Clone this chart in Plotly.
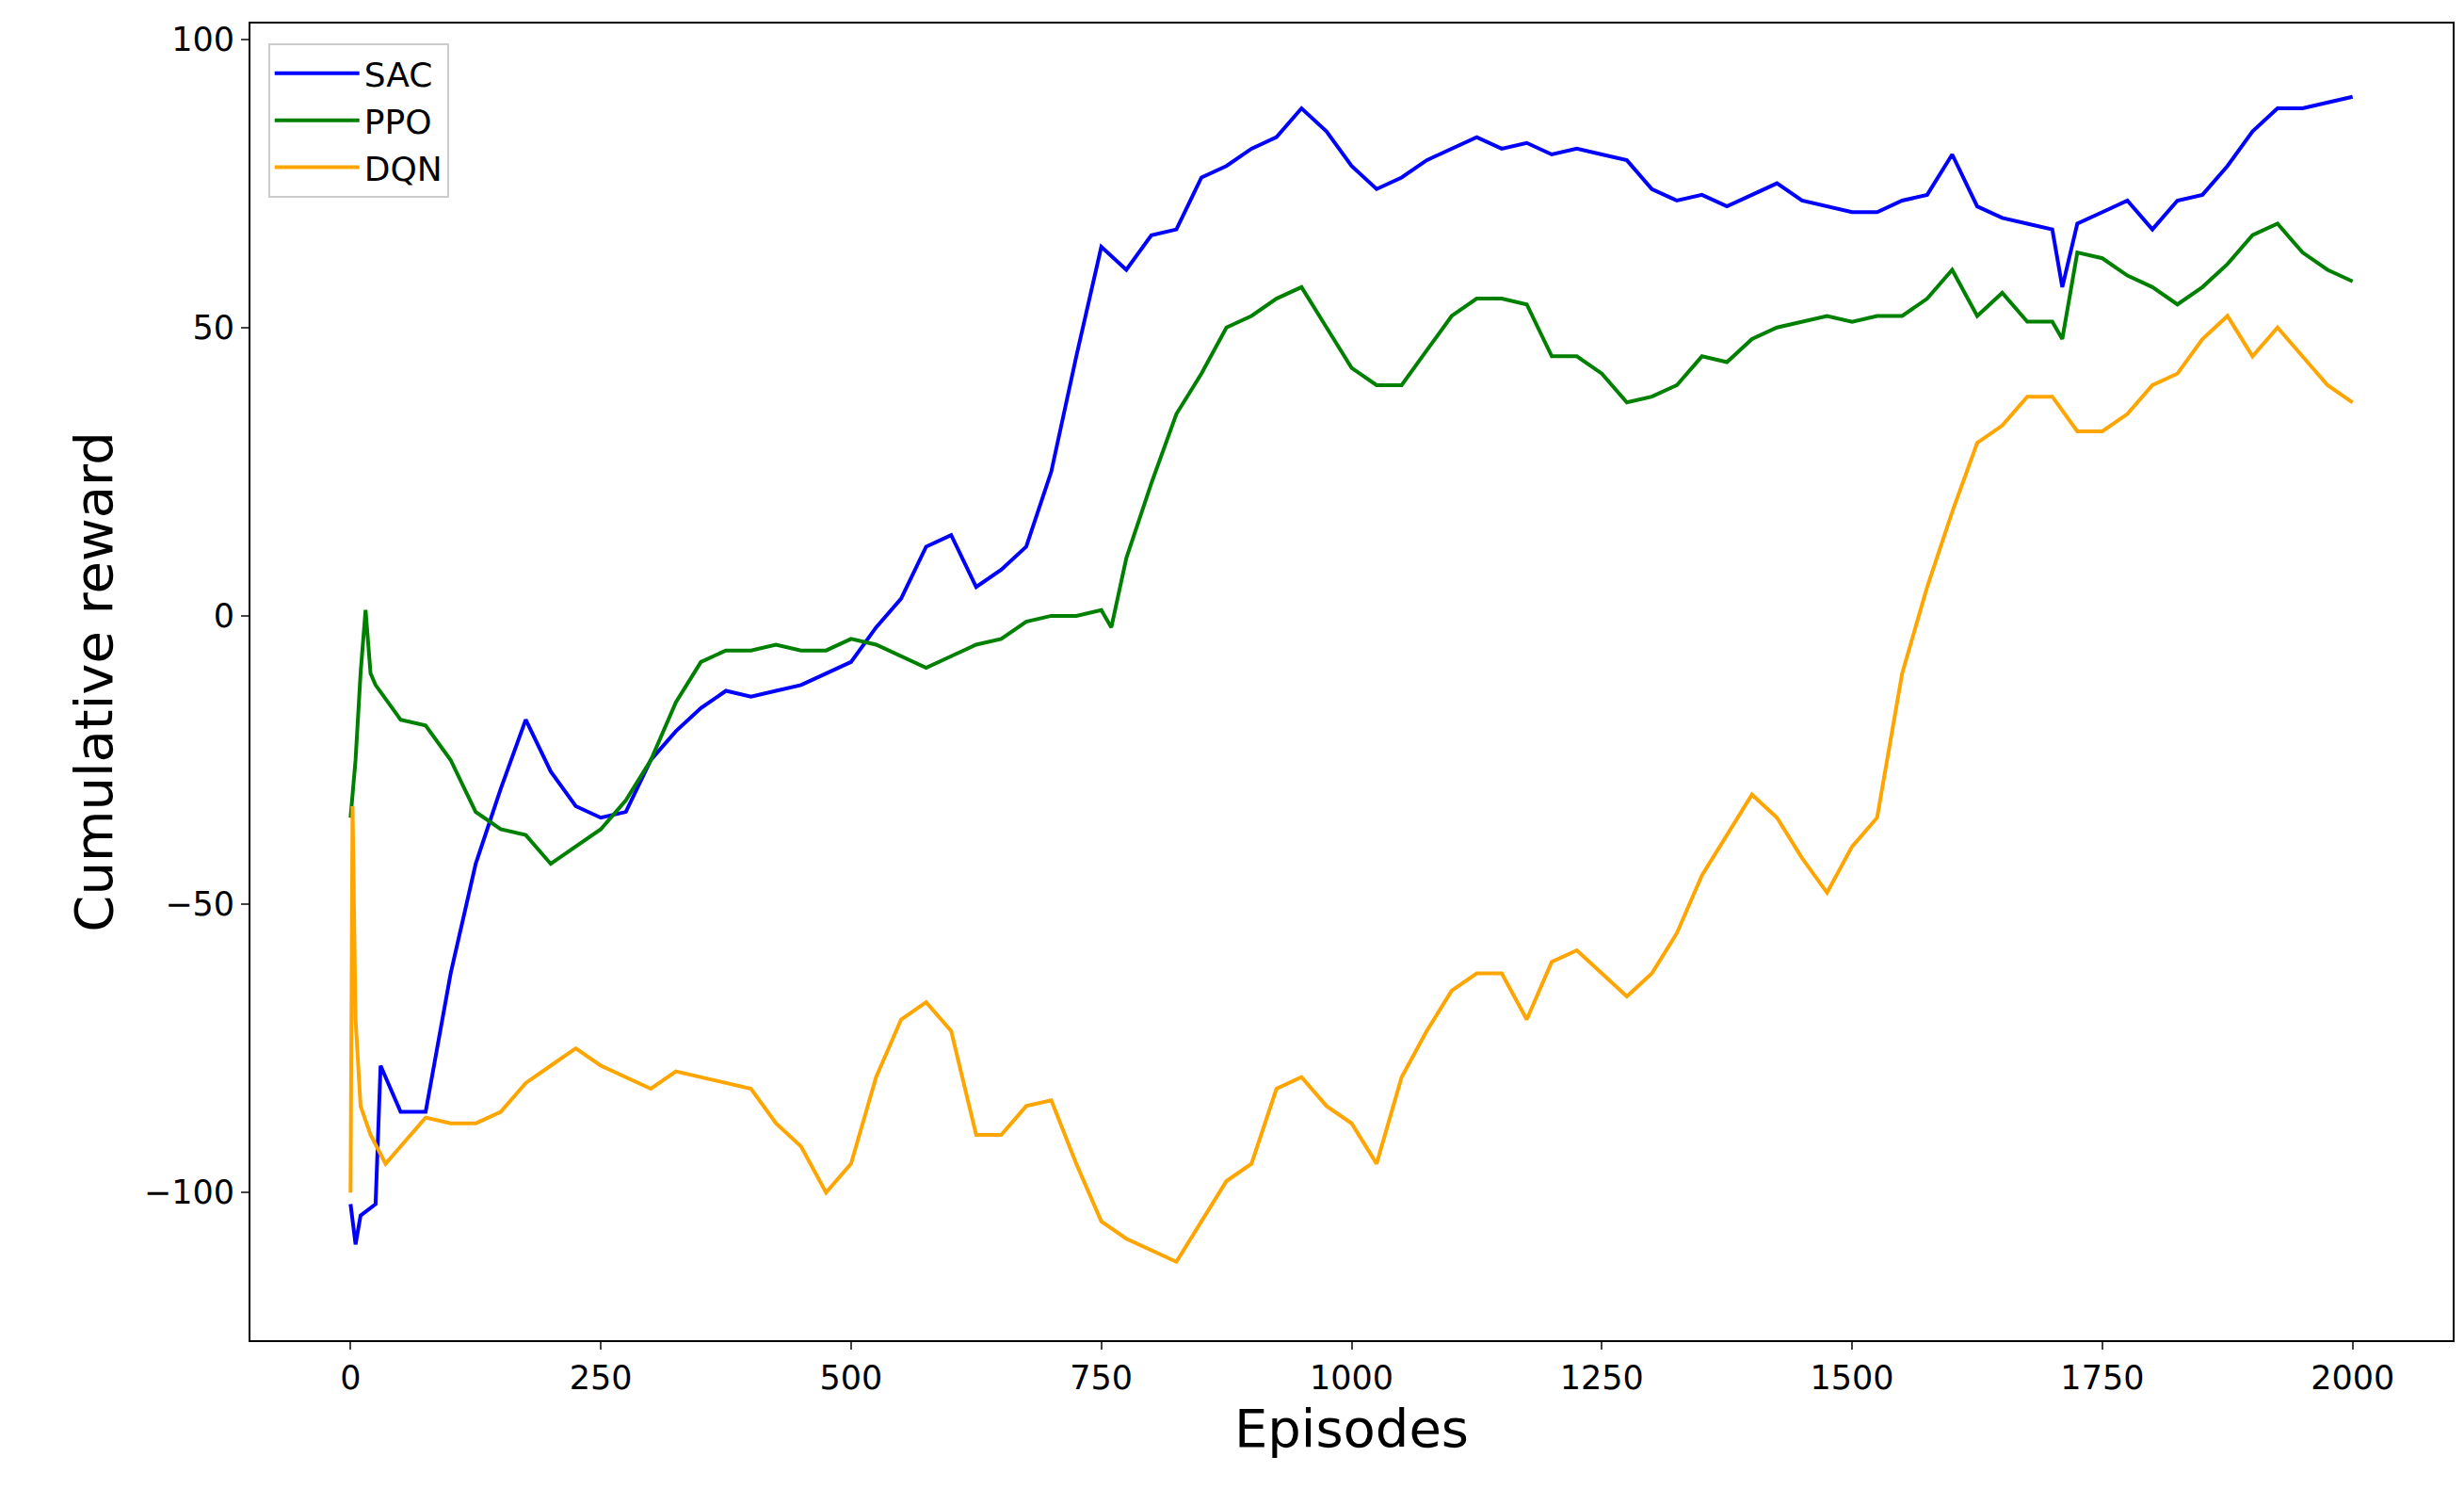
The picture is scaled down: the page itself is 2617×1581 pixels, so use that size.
import plotly.graph_objects as go

sac_x = [0,5,10,25,30,50,75,100,125,150,175,200,225,250,275,300,325,350,375,400,425,450,475,500,525,550,575,600,625,650,675,700,725,750,775,800,825,850,875,900,925,950,975,1000,1025,1050,1075,1100,1125,1150,1175,1200,1225,1250,1275,1300,1325,1350,1375,1400,1425,1450,1475,1500,1525,1550,1575,1600,1625,1650,1675,1700,1710,1725,1750,1775,1800,1825,1850,1875,1900,1925,1950,1975,2000]
sac_y = [-102,-109,-104,-102,-78,-86,-86,-62,-43,-30,-18,-27,-33,-35,-34,-25,-20,-16,-13,-14,-13,-12,-10,-8,-2,3,12,14,5,8,12,25,45,64,60,66,67,76,78,81,83,88,84,78,74,76,79,81,83,81,82,80,81,80,79,74,72,73,71,73,75,72,71,70,70,72,73,80,71,69,68,67,57,68,70,72,67,72,73,78,84,88,88,89,90]

ppo_x = [0,5,10,15,20,25,50,75,100,125,150,175,200,225,250,275,300,325,350,375,400,425,450,475,500,525,550,575,600,625,650,675,700,725,750,760,775,800,825,850,875,900,925,950,975,1000,1025,1050,1075,1100,1125,1150,1175,1200,1225,1250,1275,1300,1325,1350,1375,1400,1425,1450,1475,1500,1525,1550,1575,1600,1625,1650,1675,1700,1710,1725,1750,1775,1800,1825,1850,1875,1900,1925,1950,1975,2000]
ppo_y = [-35,-25,-10,1,-10,-12,-18,-19,-25,-34,-37,-38,-43,-40,-37,-32,-25,-15,-8,-6,-6,-5,-6,-6,-4,-5,-7,-9,-7,-5,-4,-1,0,0,1,-2,10,23,35,42,50,52,55,57,50,43,40,40,46,52,55,55,54,45,45,42,37,38,40,45,44,48,50,51,52,51,52,52,55,60,52,56,51,51,48,63,62,59,57,54,57,61,66,68,63,60,58]

dqn_x = [0,2,5,10,20,35,50,75,100,125,150,175,200,225,250,275,300,325,350,375,400,425,450,475,500,525,550,575,600,625,650,675,700,725,750,775,800,825,850,875,900,925,950,975,1000,1025,1050,1075,1100,1125,1150,1175,1200,1225,1250,1275,1300,1325,1350,1375,1400,1425,1450,1475,1500,1525,1550,1575,1600,1625,1650,1675,1700,1725,1750,1775,1800,1825,1850,1875,1900,1925,1950,1975,2000]
dqn_y = [-100,-33,-70,-85,-90,-95,-92,-87,-88,-88,-86,-81,-78,-75,-78,-80,-82,-79,-80,-81,-82,-88,-92,-100,-95,-80,-70,-67,-72,-90,-90,-85,-84,-95,-105,-108,-110,-112,-105,-98,-95,-82,-80,-85,-88,-95,-80,-72,-65,-62,-62,-70,-60,-58,-62,-66,-62,-55,-45,-38,-31,-35,-42,-48,-40,-35,-10,5,18,30,33,38,38,32,32,35,40,42,48,52,45,50,45,40,37]

fig = go.Figure()
for name, xs, ys, c in [("SAC", sac_x, sac_y, "blue"), ("PPO", ppo_x, ppo_y, "green"), ("DQN", dqn_x, dqn_y, "orange")]:
    fig.add_trace(go.Scatter(x=xs, y=ys, mode="lines", name=name, line=dict(color=c, width=4)))

ax = dict(showgrid=False, zeroline=False, showline=True, mirror=True, linecolor="black", linewidth=2,
          ticks="outside", ticklen=8, tickwidth=2, tickfont=dict(size=35, color="black"))
fig.update_layout(
    width=2617, height=1581, plot_bgcolor="white", paper_bgcolor="white",
    font=dict(family="DejaVu Sans", color="black"),
    margin=dict(l=258, r=20, t=17, b=166),
    xaxis=dict(range=[-100, 2100], tickvals=[0,250,500,750,1000,1250,1500,1750,2000],
               title=dict(text="Episodes", font=dict(size=56)), **ax),
    yaxis=dict(range=[-125.6, 102.7], tickvals=[-100,-50,0,50,100],
               title=dict(text="Cumulative reward", font=dict(size=56)), **ax),
    legend=dict(x=0.008, y=0.985, xanchor="left", yanchor="top", bgcolor="white",
                bordercolor="#cccccc", borderwidth=2, font=dict(size=36),
                itemwidth=90, tracegroupgap=10),
)
fig.write_html("out.html")
